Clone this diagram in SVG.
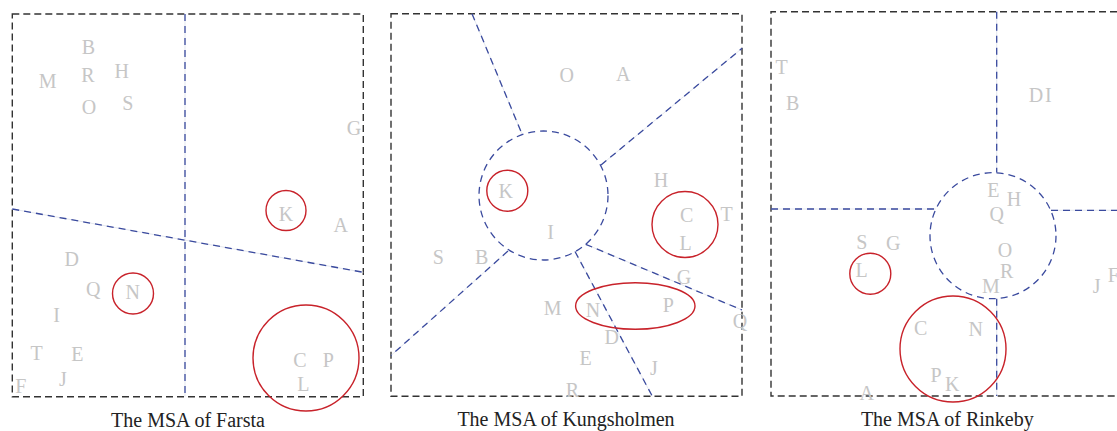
<svg xmlns="http://www.w3.org/2000/svg" width="1117" height="431" viewBox="0 0 1117 431">
<style>
.frame{fill:none;stroke:#333;stroke-width:1.4;stroke-dasharray:7 4}
.bl{fill:none;stroke:#3a4a9e;stroke-width:1.3;stroke-dasharray:7 5}
.bg{fill:none;stroke:#d8dde8;stroke-width:0.7}
.rc{fill:none;stroke:#c8222a;stroke-width:1.4}
.lt{font-family:"Liberation Serif","Times New Roman",serif;font-size:20px;fill:#c6c6c6;text-anchor:middle}
.cap{font-family:"Liberation Serif","Times New Roman",serif;font-size:20px;fill:#222;text-anchor:middle}
</style>
<rect width="1117" height="431" fill="#fff"/>

<g id="farsta">
  <rect class="frame" x="12.3" y="14" width="351" height="382.7"/>
  <g id="farsta-connectors">
    <line class="bg" x1="185" y1="14" x2="185" y2="396.7"/>
    <line class="bg" x1="12.3" y1="209" x2="363.3" y2="272.3"/>
    <line class="bl" x1="185" y1="14" x2="185" y2="396.7"/>
    <line class="bl" x1="12.3" y1="209" x2="363.3" y2="272.3"/>
  </g>
  <circle class="rc" cx="286" cy="210.5" r="20"/>
  <circle class="rc" cx="133" cy="293.5" r="20.5"/>
  <circle class="rc" cx="306" cy="358" r="53"/>
  <text class="lt" x="88.3" y="54.3">B</text>
  <text class="lt" x="88" y="81.7">R</text>
  <text class="lt" x="121.7" y="78.3">H</text>
  <text class="lt" x="47.7" y="88.3">M</text>
  <text class="lt" x="89" y="114">O</text>
  <text class="lt" x="127.7" y="110">S</text>
  <text class="lt" x="354" y="134.5">G</text>
  <text class="lt" x="286" y="220.7">K</text>
  <text class="lt" x="340.7" y="232.3">A</text>
  <text class="lt" x="71.7" y="266">D</text>
  <text class="lt" x="93.3" y="296">Q</text>
  <text class="lt" x="132.7" y="299.3">N</text>
  <text class="lt" x="56.7" y="322.3">I</text>
  <text class="lt" x="36.7" y="360">T</text>
  <text class="lt" x="77.3" y="360.7">E</text>
  <text class="lt" x="63" y="386">J</text>
  <text class="lt" x="20.7" y="393.3">F</text>
  <text class="lt" x="300" y="367">C</text>
  <text class="lt" x="328.3" y="367">P</text>
  <text class="lt" x="303.3" y="391">L</text>
  <text class="cap" x="188" y="426.5">The MSA of Farsta</text>
</g>

<g id="kungsholmen">
  <rect class="frame" x="391" y="13.7" width="351" height="382.5"/>
  <g id="kungsholmen-connectors">
    <line class="bg" x1="472" y1="13.7" x2="522" y2="134"/>
    <line class="bg" x1="601" y1="165" x2="742" y2="48.3"/>
    <line class="bg" x1="508" y1="251" x2="391" y2="355.5"/>
    <line class="bg" x1="575" y1="251.5" x2="652.3" y2="396.2"/>
    <line class="bg" x1="585.7" y1="244.3" x2="742" y2="310"/>
    <line class="bl" x1="472" y1="13.7" x2="522" y2="134"/>
    <line class="bl" x1="601" y1="165" x2="742" y2="48.3"/>
    <line class="bl" x1="508" y1="251" x2="391" y2="355.5"/>
    <line class="bl" x1="575" y1="251.5" x2="652.3" y2="396.2"/>
    <line class="bl" x1="585.7" y1="244.3" x2="742" y2="310"/>
    <circle class="bl" cx="543.5" cy="195.5" r="64.5"/>
  </g>
  <circle class="rc" cx="507.3" cy="190.7" r="20.5"/>
  <circle class="rc" cx="685" cy="224.5" r="33"/>
  <ellipse class="rc" cx="635.3" cy="306" rx="59.7" ry="23.3"/>
  <text class="lt" x="566.7" y="81.7">O</text>
  <text class="lt" x="623.3" y="80.7">A</text>
  <text class="lt" x="505.7" y="198.3">K</text>
  <text class="lt" x="661" y="187.3">H</text>
  <text class="lt" x="686.7" y="221.7">C</text>
  <text class="lt" x="726.7" y="220.7">T</text>
  <text class="lt" x="685.7" y="250">L</text>
  <text class="lt" x="550.7" y="239">I</text>
  <text class="lt" x="438.3" y="264.3">S</text>
  <text class="lt" x="481.7" y="264.3">B</text>
  <text class="lt" x="684" y="284">G</text>
  <text class="lt" x="552.7" y="315">M</text>
  <text class="lt" x="593" y="317.3">N</text>
  <text class="lt" x="668.3" y="312.3">P</text>
  <text class="lt" x="740" y="328">Q</text>
  <text class="lt" x="611.7" y="344">D</text>
  <text class="lt" x="585.7" y="365">E</text>
  <text class="lt" x="654" y="375">J</text>
  <text class="lt" x="572.3" y="397.3">R</text>
  <text class="cap" x="566" y="426">The MSA of Kungsholmen</text>
</g>

<g id="rinkeby">
  <path class="frame" d="M1117 11.7 H771 V396 H1117"/>
  <g id="rinkeby-connectors">
    <line class="bg" x1="996.7" y1="11.7" x2="996.7" y2="172.5"/>
    <line class="bg" x1="771" y1="209" x2="935.7" y2="209"/>
    <line class="bg" x1="1051" y1="210.3" x2="1117" y2="210.3"/>
    <line class="bg" x1="996.7" y1="298.7" x2="996.7" y2="396"/>
    <line class="bl" x1="996.7" y1="11.7" x2="996.7" y2="172.5"/>
    <line class="bl" x1="771" y1="209" x2="935.7" y2="209"/>
    <line class="bl" x1="1051" y1="210.3" x2="1117" y2="210.3"/>
    <line class="bl" x1="996.7" y1="298.7" x2="996.7" y2="396"/>
    <circle class="bl" cx="993" cy="235.7" r="63"/>
  </g>
  <circle class="rc" cx="870.3" cy="273.7" r="20.5"/>
  <circle class="rc" cx="953" cy="349" r="53"/>
  <text class="lt" x="781.7" y="74">T</text>
  <text class="lt" x="792.7" y="110">B</text>
  <text class="lt" x="1036" y="101.7">D</text>
  <text class="lt" x="1048.3" y="101.7">I</text>
  <text class="lt" x="993.3" y="197.3">E</text>
  <text class="lt" x="1014" y="205.7">H</text>
  <text class="lt" x="996.7" y="220.7">Q</text>
  <text class="lt" x="1005" y="257.3">O</text>
  <text class="lt" x="1006.7" y="278.3">R</text>
  <text class="lt" x="991" y="292.7">M</text>
  <text class="lt" x="861.7" y="249.3">S</text>
  <text class="lt" x="893.3" y="249.7">G</text>
  <text class="lt" x="861.7" y="276.7">L</text>
  <text class="lt" x="1096.7" y="293.3">J</text>
  <text class="lt" x="1113.3" y="281.7">F</text>
  <text class="lt" x="920.7" y="335">C</text>
  <text class="lt" x="975.7" y="335.7">N</text>
  <text class="lt" x="936" y="381.7">P</text>
  <text class="lt" x="952.3" y="391">K</text>
  <text class="lt" x="866.7" y="400">A</text>
  <text class="cap" x="947.3" y="426">The MSA of Rinkeby</text>
</g>
</svg>
